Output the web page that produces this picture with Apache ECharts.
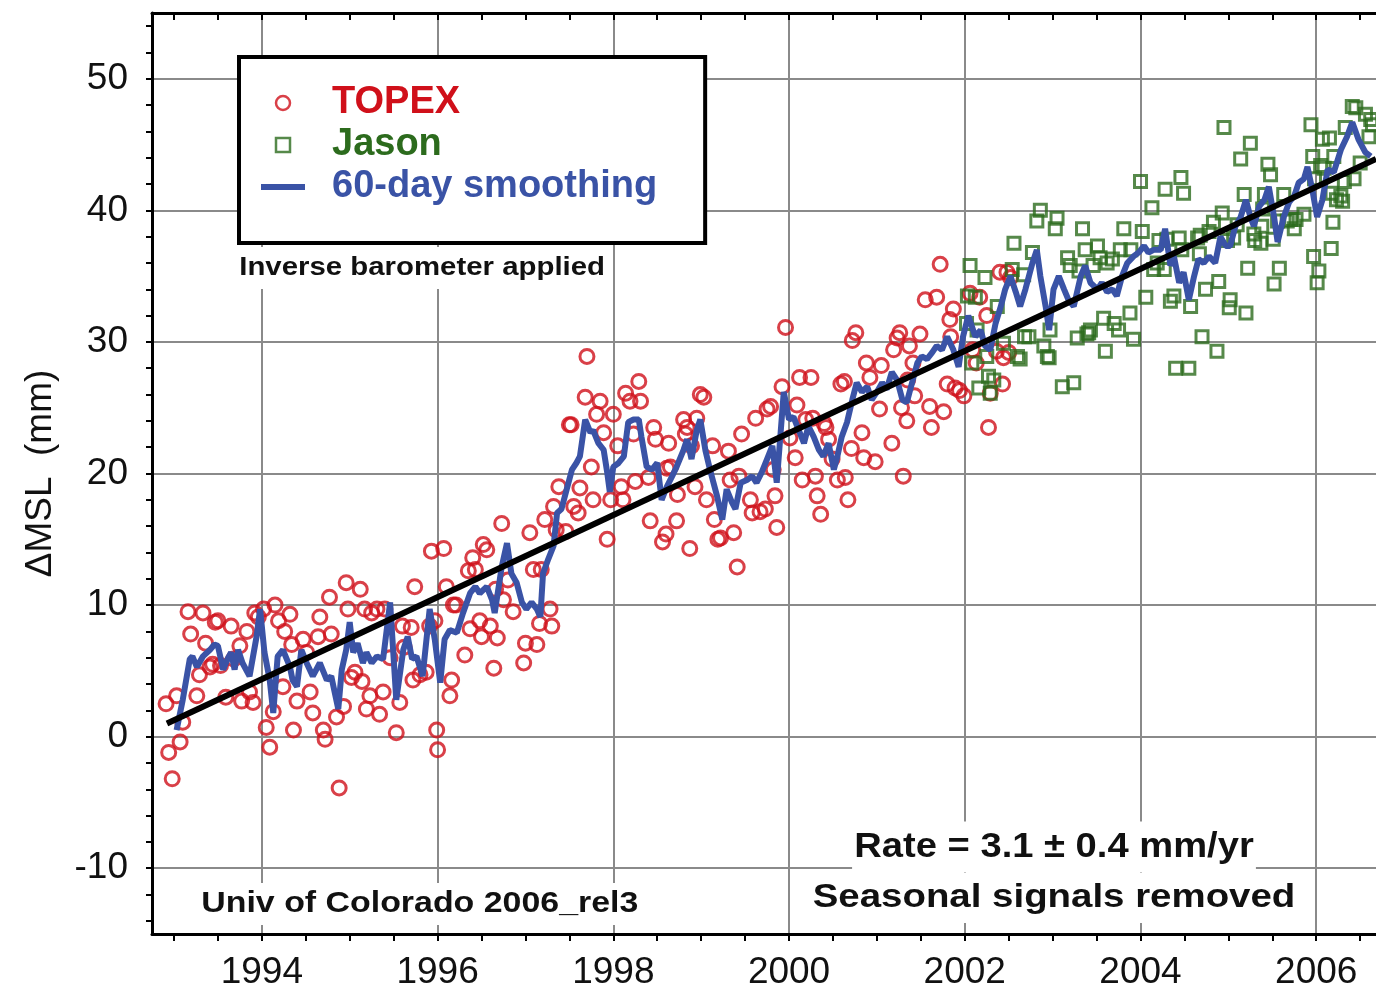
<!DOCTYPE html>
<html><head><meta charset="utf-8">
<script src="https://cdn.jsdelivr.net/npm/echarts@6/dist/echarts.min.js"></script>
<style>html,body{margin:0;padding:0;background:#fff}#c{width:1376px;height:991px}</style>
</head><body><div id="c"></div>
<script>
// TOPEX 10-day values [year, mm]
const topex = [[1992.91,2.5],[1992.94,-1.2],[1992.98,-3.2],[1993.03,3.1],[1993.07,-0.4],[1993.10,1.1],[1993.16,9.5],[1993.19,7.8],[1993.26,3.1],[1993.29,4.7],[1993.33,9.4],[1993.36,7.1],[1993.41,5.3],[1993.44,5.5],[1993.47,8.7],[1993.50,8.8],[1993.53,5.4],[1993.59,3.0],[1993.65,8.4],[1993.68,5.9],[1993.75,6.9],[1993.77,2.7],[1993.83,8.0],[1993.86,3.4],[1993.90,2.6],[1993.92,9.4],[1993.96,9.1],[1994.02,9.7],[1994.05,0.7],[1994.09,-0.8],[1994.13,1.9],[1994.15,10.0],[1994.19,8.8],[1994.24,3.8],[1994.26,8.0],[1994.32,9.3],[1994.34,7.0],[1994.36,0.5],[1994.40,2.7],[1994.47,7.4],[1994.51,6.4],[1994.55,3.4],[1994.58,1.8],[1994.64,7.6],[1994.66,9.1],[1994.70,0.5],[1994.72,-0.2],[1994.77,10.6],[1994.79,7.8],[1994.85,1.5],[1994.88,-3.9],[1994.93,2.3],[1994.96,11.7],[1994.98,9.7],[1995.02,4.5],[1995.06,4.9],[1995.12,11.2],[1995.14,4.2],[1995.17,9.7],[1995.19,2.1],[1995.23,3.1],[1995.25,9.4],[1995.31,9.7],[1995.34,1.7],[1995.38,3.4],[1995.40,9.7],[1995.46,6.0],[1995.53,0.3],[1995.57,2.6],[1995.60,8.4],[1995.62,6.8],[1995.70,8.3],[1995.72,4.3],[1995.74,11.4],[1995.80,4.7],[1995.87,4.9],[1995.91,8.4],[1995.93,14.1],[1995.97,8.8],[1995.99,0.5],[1996.00,-1.0],[1996.07,14.3],[1996.10,11.4],[1996.14,3.1],[1996.16,4.3],[1996.18,10.0],[1996.21,10.0],[1996.31,6.2],[1996.35,12.6],[1996.37,8.2],[1996.40,13.6],[1996.43,12.7],[1996.48,8.8],[1996.50,7.6],[1996.52,14.6],[1996.56,14.2],[1996.60,8.4],[1996.64,5.2],[1996.66,11.2],[1996.68,7.5],[1996.73,16.2],[1996.75,10.4],[1996.80,11.9],[1996.86,9.5],[1996.98,5.6],[1997.00,7.1],[1997.05,15.5],[1997.09,12.7],[1997.13,7.0],[1997.16,8.6],[1997.18,12.7],[1997.22,16.5],[1997.28,9.7],[1997.30,8.4],[1997.32,17.5],[1997.35,15.7],[1997.38,19.0],[1997.46,15.6],[1997.50,23.7],[1997.52,23.7],[1997.55,17.5],[1997.60,17.0],[1997.62,18.9],[1997.68,25.8],[1997.70,28.9],[1997.75,20.5],[1997.77,18.0],[1997.81,24.5],[1997.85,25.5],[1997.89,23.1],[1997.93,15.0],[1997.97,18.0],[1998.00,24.5],[1998.05,22.1],[1998.09,19.0],[1998.11,18.0],[1998.14,26.1],[1998.19,25.5],[1998.23,23.0],[1998.25,19.4],[1998.29,27.0],[1998.31,25.5],[1998.40,19.7],[1998.42,16.4],[1998.46,23.5],[1998.48,22.6],[1998.56,14.8],[1998.60,15.4],[1998.61,20.4],[1998.63,22.3],[1998.65,20.5],[1998.72,16.4],[1998.73,18.4],[1998.80,24.1],[1998.82,23.0],[1998.84,23.5],[1998.87,14.3],[1998.89,22.1],[1998.93,19.0],[1998.95,24.2],[1998.99,26.0],[1999.03,25.8],[1999.06,18.0],[1999.13,22.1],[1999.15,16.5],[1999.19,15.0],[1999.22,15.1],[1999.31,21.7],[1999.33,19.5],[1999.37,15.5],[1999.41,12.9],[1999.43,19.8],[1999.46,23.0],[1999.56,18.0],[1999.58,17.0],[1999.62,24.2],[1999.67,17.1],[1999.73,17.3],[1999.75,24.9],[1999.79,25.1],[1999.82,20.3],[1999.84,18.3],[1999.86,15.9],[1999.92,26.6],[1999.96,31.1],[2000.01,22.7],[2000.07,21.2],[2000.09,25.2],[2000.12,27.3],[2000.15,19.5],[2000.19,24.1],[2000.25,27.3],[2000.27,24.2],[2000.30,19.8],[2000.32,18.3],[2000.36,16.9],[2000.40,23.8],[2000.42,23.5],[2000.45,22.6],[2000.49,21.1],[2000.55,19.5],[2000.59,26.8],[2000.63,27.0],[2000.64,19.7],[2000.67,18.0],[2000.71,21.9],[2000.72,30.1],[2000.76,30.7],[2000.83,23.1],[2000.85,21.2],[2000.88,28.4],[2000.92,27.3],[2000.98,20.9],[2001.03,24.9],[2001.05,28.2],[2001.17,22.3],[2001.19,29.4],[2001.23,30.3],[2001.26,30.7],[2001.28,25.0],[2001.30,19.8],[2001.34,24.0],[2001.35,27.1],[2001.37,29.7],[2001.41,28.4],[2001.43,25.9],[2001.49,30.6],[2001.55,33.2],[2001.60,25.1],[2001.62,23.5],[2001.68,33.4],[2001.72,35.9],[2001.76,24.7],[2001.80,26.8],[2001.83,31.7],[2001.84,30.4],[2001.87,32.5],[2001.89,26.5],[2001.94,26.3],[2001.99,25.9],[2002.06,33.7],[2002.09,29.4],[2002.13,28.4],[2002.17,33.4],[2002.25,32.0],[2002.27,23.5],[2002.29,26.1],[2002.36,29.3],[2002.40,35.3],[2002.43,26.8],[2002.44,28.8],[2002.48,35.3],[2002.50,29.2],[2002.52,34.9]];

// Jason 10-day values [year, mm]
const jason = [[2002.02,31.4],[2002.03,33.5],[2002.06,35.8],[2002.08,28.4],[2002.12,33.4],[2002.14,30.9],[2002.16,26.5],[2002.23,34.9],[2002.25,28.9],[2002.27,27.4],[2002.29,26.1],[2002.33,27.1],[2002.37,32.7],[2002.44,29.9],[2002.54,35.5],[2002.56,37.5],[2002.60,28.9],[2002.63,28.7],[2002.67,35.1],[2002.68,30.4],[2002.73,30.4],[2002.77,36.8],[2002.82,39.2],[2002.86,40.0],[2002.90,29.7],[2002.94,28.9],[2002.96,28.8],[2002.97,30.9],[2003.03,38.6],[2003.05,39.4],[2003.11,26.6],[2003.17,36.4],[2003.20,35.8],[2003.24,26.9],[2003.28,30.3],[2003.30,35.4],[2003.34,38.6],[2003.37,37.0],[2003.39,30.6],[2003.41,30.7],[2003.43,30.9],[2003.46,35.8],[2003.51,37.3],[2003.54,36.4],[2003.58,31.8],[2003.60,29.3],[2003.62,36.0],[2003.68,36.3],[2003.70,31.4],[2003.75,30.9],[2003.77,37.0],[2003.81,38.6],[2003.88,32.2],[2003.89,37.0],[2003.92,30.2],[2004.00,42.2],[2004.02,38.4],[2004.06,33.4],[2004.13,40.2],[2004.15,35.5],[2004.19,36.0],[2004.21,37.7],[2004.27,35.5],[2004.28,41.6],[2004.30,37.8],[2004.34,33.1],[2004.38,33.5],[2004.40,28.0],[2004.44,37.9],[2004.46,42.5],[2004.47,37.0],[2004.49,41.3],[2004.55,28.0],[2004.57,32.7],[2004.65,37.9],[2004.67,36.7],[2004.68,38.1],[2004.70,30.4],[2004.74,34.0],[2004.78,38.4],[2004.83,39.1],[2004.87,29.3],[2004.89,34.6],[2004.93,39.8],[2004.95,46.3],[2004.99,37.7],[2005.01,32.6],[2005.02,33.2],[2005.06,37.9],[2005.10,38.9],[2005.14,43.9],[2005.18,41.2],[2005.20,32.2],[2005.22,35.6],[2005.25,45.1],[2005.29,38.2],[2005.30,37.7],[2005.37,37.5],[2005.38,38.8],[2005.39,40.1],[2005.41,41.2],[2005.45,43.5],[2005.48,42.7],[2005.51,37.8],[2005.52,34.4],[2005.56,39.2],[2005.58,35.6],[2005.63,41.2],[2005.67,39.2],[2005.71,39.3],[2005.75,38.6],[2005.77,39.3],[2005.86,39.7],[2005.94,46.5],[2005.96,44.1],[2005.97,36.5],[2005.98,42.4],[2006.01,34.5],[2006.03,35.4],[2006.05,43.4],[2006.07,45.4],[2006.09,43.2],[2006.15,45.5],[2006.17,37.1],[2006.18,41.3],[2006.19,39.1],[2006.20,44.1],[2006.23,40.8],[2006.28,41.1],[2006.30,40.7],[2006.32,42.2],[2006.33,46.3],[2006.41,47.9],[2006.43,42.4],[2006.45,47.8],[2006.50,43.6],[2006.56,47.3],[2006.60,45.6],[2006.62,46.9],[2006.64,46.5]];

// 60-day smoothed series [year, mm]
const smooth60 = [[1993.03,0.5],[1993.10,2.8],[1993.18,5.9],[1993.21,6.1],[1993.26,5.3],[1993.33,6.1],[1993.41,6.6],[1993.46,7.0],[1993.50,6.9],[1993.56,5.1],[1993.61,5.9],[1993.65,6.4],[1993.69,5.1],[1993.73,6.6],[1993.78,5.6],[1993.86,4.6],[1993.94,7.6],[1993.98,9.7],[1994.03,6.4],[1994.09,4.3],[1994.13,1.8],[1994.18,6.1],[1994.24,6.6],[1994.32,5.3],[1994.35,4.3],[1994.40,3.8],[1994.45,6.6],[1994.51,5.6],[1994.58,4.6],[1994.66,5.6],[1994.74,4.3],[1994.79,4.6],[1994.87,2.1],[1994.91,5.1],[1994.96,6.6],[1995.00,8.7],[1995.04,6.4],[1995.09,7.1],[1995.15,5.6],[1995.19,6.4],[1995.25,5.6],[1995.31,6.1],[1995.38,5.9],[1995.46,10.2],[1995.53,2.8],[1995.61,6.6],[1995.66,7.6],[1995.71,5.9],[1995.76,6.1],[1995.83,4.6],[1995.91,9.7],[1995.97,7.3],[1996.03,4.1],[1996.08,7.4],[1996.14,8.1],[1996.22,7.9],[1996.29,9.4],[1996.37,10.9],[1996.43,11.4],[1996.48,10.9],[1996.56,11.4],[1996.62,10.4],[1996.65,9.4],[1996.73,12.9],[1996.79,14.7],[1996.84,12.4],[1996.90,11.7],[1996.96,10.2],[1997.01,9.7],[1997.07,10.2],[1997.13,9.7],[1997.17,9.1],[1997.20,12.4],[1997.26,13.5],[1997.32,14.5],[1997.36,17.0],[1997.41,17.3],[1997.47,18.8],[1997.53,20.3],[1997.58,20.8],[1997.62,21.3],[1997.68,24.1],[1997.74,23.1],[1997.77,23.3],[1997.83,22.3],[1997.89,21.8],[1997.93,20.1],[1997.96,18.6],[1998.00,20.5],[1998.06,20.8],[1998.12,21.3],[1998.17,23.9],[1998.23,24.1],[1998.29,24.1],[1998.32,22.8],[1998.38,20.5],[1998.44,20.3],[1998.50,20.8],[1998.55,18.0],[1998.61,19.0],[1998.67,19.8],[1998.72,20.5],[1998.80,21.8],[1998.84,22.6],[1998.89,21.1],[1998.95,23.3],[1998.99,24.1],[1999.05,21.7],[1999.10,20.3],[1999.18,18.3],[1999.24,16.5],[1999.29,18.8],[1999.35,17.8],[1999.39,17.3],[1999.45,19.3],[1999.52,19.5],[1999.58,19.8],[1999.63,19.3],[1999.69,20.1],[1999.75,21.1],[1999.81,22.1],[1999.86,19.3],[1999.94,26.2],[2000.00,24.1],[2000.05,24.3],[2000.11,23.3],[2000.17,22.3],[2000.22,23.6],[2000.28,22.8],[2000.34,21.8],[2000.39,21.3],[2000.45,22.3],[2000.51,20.3],[2000.55,21.3],[2000.60,22.8],[2000.66,23.9],[2000.72,25.6],[2000.77,26.9],[2000.83,26.2],[2000.89,26.6],[2000.94,25.6],[2001.00,26.2],[2001.06,26.9],[2001.11,26.4],[2001.17,27.7],[2001.23,27.1],[2001.29,25.6],[2001.34,25.4],[2001.40,26.9],[2001.46,28.4],[2001.51,28.9],[2001.57,28.7],[2001.63,29.2],[2001.68,29.7],[2001.74,29.4],[2001.80,30.4],[2001.87,29.4],[2001.93,28.1],[2001.98,30.4],[2002.04,32.0],[2002.12,30.4],[2002.18,30.9],[2002.23,29.7],[2002.29,29.4],[2002.35,31.4],[2002.41,32.7],[2002.46,34.0],[2002.52,35.0],[2002.58,33.8],[2002.63,32.7],[2002.69,34.0],[2002.77,36.0],[2002.82,37.0],[2002.86,35.0],[2002.92,32.7],[2002.96,30.9],[2003.01,34.0],[2003.07,35.0],[2003.13,34.0],[2003.18,33.2],[2003.24,32.7],[2003.32,35.0],[2003.37,35.8],[2003.43,34.5],[2003.51,34.0],[2003.56,34.5],[2003.62,33.8],[2003.68,34.0],[2003.73,33.5],[2003.79,35.0],[2003.85,36.0],[2003.92,36.5],[2003.98,36.8],[2004.04,37.3],[2004.09,36.8],[2004.15,37.0],[2004.23,37.0],[2004.28,38.6],[2004.34,35.8],[2004.38,36.5],[2004.44,34.5],[2004.49,35.3],[2004.55,33.2],[2004.61,35.0],[2004.66,36.3],[2004.72,36.0],[2004.78,36.5],[2004.85,36.0],[2004.91,38.0],[2004.97,37.3],[2005.02,37.3],[2005.08,38.8],[2005.14,39.5],[2005.20,40.8],[2005.25,39.5],[2005.29,38.8],[2005.35,40.3],[2005.41,40.8],[2005.46,41.8],[2005.52,39.5],[2005.56,37.6],[2005.63,39.5],[2005.69,40.6],[2005.75,41.1],[2005.80,42.1],[2005.86,42.4],[2005.90,43.3],[2005.96,41.4],[2006.01,39.5],[2006.07,40.8],[2006.13,43.1],[2006.20,42.9],[2006.28,44.6],[2006.35,45.6],[2006.41,46.7],[2006.48,45.4],[2006.56,44.4],[2006.62,44.1]];

// linear trend (3.1 mm/yr) end points
const trend = [[1992.92,1.0],[2006.68,43.9]];

// axis tick labels
const xLabelValues = [1994,1996,1998,2000,2002,2004,2006];
const yLabelValues = [-10,0,10,20,30,40,50];

const X_MIN = 1992.75, X_MAX = 2006.68, Y_MIN = -15, Y_MAX = 55;
const xTicks = []; for (let v = 1993; v <= 2006.5; v += 0.5) xTicks.push(v);
const yTicks = []; for (let v = -14; v <= 54; v += 2) yTicks.push(v);

const FONT = 'Liberation Sans, Arial, sans-serif';
const RED = '#d0101a', GREEN = '#2c6b1d', BLUE = '#3a53a6';

const chart = echarts.init(document.getElementById('c'), null, {renderer: 'canvas'});
chart.setOption({
  animation: false,
  backgroundColor: '#ffffff',
  grid: {left: 152, right: 0, top: 13, bottom: 57, containLabel: false},
  xAxis: [
    {type: 'value', min: X_MIN, max: X_MAX, position: 'bottom', splitNumber: 7,
     axisLine: {show: true, onZero: false, lineStyle: {color: '#000', width: 3}},
     axisTick: {show: true, customValues: xTicks, inside: false, length: 7, lineStyle: {color: '#000', width: 2}},
     axisLabel: {show: true, customValues: xLabelValues, fontSize: 37, color: '#111', margin: 20, fontFamily: FONT,
                 formatter: v => String(v)},
     splitLine: {show: false}},
    {type: 'value', min: X_MIN, max: X_MAX, position: 'bottom', splitNumber: 7,
     axisLine: {show: false}, axisTick: {show: false, customValues: xLabelValues}, axisLabel: {show: false},
     splitLine: {show: true, lineStyle: {color: '#8a8a8a', width: 2}}},
    {type: 'value', min: X_MIN, max: X_MAX, position: 'top',
     axisLine: {show: true, onZero: false, lineStyle: {color: '#000', width: 3}},
     axisTick: {show: true, customValues: xTicks, inside: true, length: 7, lineStyle: {color: '#000', width: 2}},
     axisLabel: {show: false}, splitLine: {show: false}}
  ],
  yAxis: [
    {type: 'value', min: Y_MIN, max: Y_MAX, position: 'left', splitNumber: 7,
     name: 'ΔMSL  (mm)', nameLocation: 'middle', nameGap: 93, nameRotate: 90,
     nameTextStyle: {fontSize: 37, color: '#111', fontFamily: FONT},
     axisLine: {show: true, onZero: false, lineStyle: {color: '#000', width: 3}},
     axisTick: {show: true, customValues: yTicks, inside: false, length: 6, lineStyle: {color: '#000', width: 2}},
     axisLabel: {show: true, customValues: yLabelValues, fontSize: 37, color: '#111', margin: 24, fontFamily: FONT,
                 formatter: v => String(v)},
     splitLine: {show: false}},
    {type: 'value', min: Y_MIN, max: Y_MAX, splitNumber: 7,
     axisLine: {show: false}, axisTick: {show: false, customValues: yLabelValues}, axisLabel: {show: false},
     splitLine: {show: true, lineStyle: {color: '#8a8a8a', width: 2}}}
  ],
  legend: {
    orient: 'vertical', left: 239, top: 57, padding: [26, 48, 36, 22],
    itemWidth: 44, itemHeight: 14, itemGap: 2,
    backgroundColor: '#ffffff', borderColor: '#000', borderWidth: 4, borderRadius: 0,
    selectedMode: false,
    textStyle: {fontSize: 38, fontWeight: 'bold', fontFamily: FONT, lineHeight: 40, padding: [0, 0, 0, 22]},
    itemStyle: {borderWidth: 2.5},
    lineStyle: {width: 6},
    data: [
      {name: 'TOPEX', textStyle: {color: RED}},
      {name: 'Jason', icon: 'path://M0,0H10V10H0Z', textStyle: {color: GREEN}},
      {name: '60-day smoothing', icon: 'path://M0,0H44V6H0Z', itemStyle: {color: BLUE, borderWidth: 0}, textStyle: {color: BLUE}}
    ]
  },
  graphic: [
    {type: 'text', x: 237, y: 268, scaleX: 1.13, z: 50,
     style: {text: 'Inverse barometer applied', font: 'bold 26px ' + FONT, fill: '#111',
             align: 'left', verticalAlign: 'middle', backgroundColor: '#fff', padding: [8, 2], lineHeight: 26}},
    {type: 'text', x: 199, y: 904, scaleX: 1.13, z: 50,
     style: {text: 'Univ of Colorado 2006_rel3', font: 'bold 30px ' + FONT, fill: '#111',
             align: 'left', verticalAlign: 'middle', backgroundColor: '#fff', padding: [6, 2], lineHeight: 30}},
    {type: 'text', x: 1054, y: 847, scaleX: 1.09, z: 50,
     style: {text: 'Rate = 3.1 ± 0.4 mm/yr', font: 'bold 35px ' + FONT, fill: '#111',
             align: 'center', verticalAlign: 'middle', backgroundColor: '#fff', padding: [8, 2], lineHeight: 35}},
    {type: 'text', x: 1054, y: 898, scaleX: 1.13, z: 50,
     style: {text: 'Seasonal signals removed', font: 'bold 34px ' + FONT, fill: '#111',
             align: 'center', verticalAlign: 'middle', backgroundColor: '#fff', padding: [8, 2], lineHeight: 34}}
  ],
  series: [
    {name: 'TOPEX', type: 'scatter', data: topex, symbol: 'circle', symbolSize: 14, z: 2,
     itemStyle: {color: 'rgba(255,255,255,0)', borderColor: RED, borderWidth: 3}},
    {name: 'Jason', type: 'scatter', data: jason, symbol: 'rect', symbolSize: 12, z: 3,
     itemStyle: {color: 'rgba(255,255,255,0)', borderColor: GREEN, borderWidth: 3}},
    {name: '60-day smoothing', type: 'line', data: smooth60, symbol: 'none', showSymbol: false, z: 4,
     lineStyle: {color: BLUE, width: 6}, itemStyle: {color: BLUE}},
    {name: 'trend', type: 'line', data: trend, symbol: 'none', showSymbol: false, z: 5,
     lineStyle: {color: '#000', width: 6}, itemStyle: {color: '#000'}}
  ]
});
</script></body></html>
